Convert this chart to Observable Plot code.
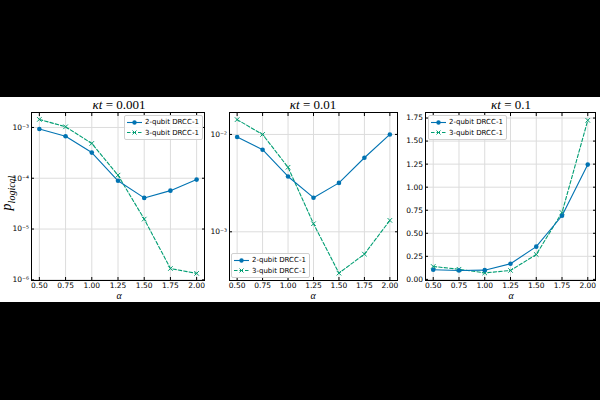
<!DOCTYPE html>
<html>
<head>
<meta charset="utf-8">
<script src="https://cdn.jsdelivr.net/npm/d3@7"></script>
<script src="https://cdn.jsdelivr.net/npm/@observablehq/plot@0.6"></script>
<style>
  html, body { margin: 0; padding: 0; background: #000; }
  #wrap { position: relative; width: 600px; height: 400px; background: #000; overflow: hidden; }
  #white { position: absolute; left: 0; top: 97px; width: 600px; height: 205px; background: #fff; }
  .panel { position: absolute; top: 0; }
  .panel svg { background: transparent !important; }
  .title { position: absolute; transform: translate(-50%, -50%); font-family: "Liberation Serif", serif; font-size: 13px; white-space: nowrap; color: #000; }
  .xlab { position: absolute; transform: translate(-50%, -50%); font-family: "Liberation Serif", serif; font-style: italic; font-size: 10px; color: #000; }
  .ylab { position: absolute; transform: translate(-50%, -50%) rotate(-90deg); font-family: "Liberation Serif", serif; font-style: italic; font-size: 14px; white-space: nowrap; color: #000; }
  .ylab sub { font-size: 10px; }
  .legend { position: absolute; border: 1px solid #d0d0d0; border-radius: 2px; background: rgba(255,255,255,0.85); font-family: "DejaVu Sans", sans-serif; font-size: 7px; color: #000; padding: 1px 3px 1px 2px; }
  .legend .row { display: flex; align-items: center; height: 10.5px; white-space: nowrap; }
  .legend svg { margin-right: 3px; }
</style>
</head>
<body>
<div id="wrap"><div id="white"></div></div>
<script>
// ---- data ----
const alpha = [0.5, 0.75, 1.0, 1.25, 1.5, 1.75, 2.0];
const xTicks = [0.5, 0.75, 1.0, 1.25, 1.5, 1.75, 2.0];

// kappa t = 0.001
const p2_k0001 = [9.3e-4, 6.7e-4, 3.2e-4, 8.9e-5, 4.1e-5, 5.7e-5, 9.4e-5];
const p3_k0001 = [1.44e-3, 1.03e-3, 4.85e-4, 1.15e-4, 1.57e-5, 1.67e-6, 1.34e-6];
// kappa t = 0.01
const p2_k001 = [9.4e-3, 6.97e-3, 3.7e-3, 2.24e-3, 3.18e-3, 5.76e-3, 1.0e-2];
const p3_k001 = [1.42e-2, 1.0e-2, 4.6e-3, 1.21e-3, 3.76e-4, 5.9e-4, 1.31e-3];
// kappa t = 0.1
const p2_k01 = [0.105, 0.097, 0.10, 0.17, 0.355, 0.69, 1.245];
const p3_k01 = [0.14, 0.11, 0.07, 0.097, 0.27, 0.725, 1.725];

const yTicks1 = [1e-6, 1e-5, 1e-4, 1e-3];
const yTicks2 = [1e-3, 1e-2];
const yTicks3 = [0, 0.25, 0.5, 0.75, 1.0, 1.25, 1.5, 1.75];

const titles = ["0.001", "0.01", "0.1"];
const seriesNames = ["2-qubit DRCC-1", "3-qubit DRCC-1"];
const colors = ["#0173B2", "#029E73"];

// ---- helpers ----
const sup = {"-": "\u207B", "0": "\u2070", "1": "\u00B9", "2": "\u00B2", "3": "\u00B3", "4": "\u2074", "5": "\u2075", "6": "\u2076", "7": "\u2077", "8": "\u2078", "9": "\u2079"};
const powFmt = d => "10" + String(Math.round(Math.log10(d))).split("").map(c => sup[c]).join("");

const white = document.getElementById("white");

function panel({left, width, ml, mr, yType, yDomain, yTicks, yFmt, s2, s3}) {
  const chart = Plot.plot({
    width, height: 205,
    marginLeft: ml, marginRight: mr, marginTop: 15, marginBottom: 22,
    style: {fontFamily: "DejaVu Sans, sans-serif", fontSize: "7.5px", background: "transparent", color: "#000"},
    x: {domain: [0.425, 2.075]},
    y: {type: yType, domain: yDomain},
    marks: [
      Plot.gridX(xTicks, {stroke: "#dcdcdc", strokeOpacity: 1, strokeWidth: 1}),
      Plot.gridY(yTicks, {stroke: "#dcdcdc", strokeOpacity: 1, strokeWidth: 1}),
      Plot.line(alpha, {x: alpha, y: s3, stroke: colors[1], strokeWidth: 1.1, strokeDasharray: "3.5,2"}),
      Plot.dot(alpha, {x: alpha, y: s3, symbol: "times", stroke: colors[1], strokeWidth: 1, r: 2.2}),
      Plot.line(alpha, {x: alpha, y: s2, stroke: colors[0], strokeWidth: 1.1}),
      Plot.dot(alpha, {x: alpha, y: s2, fill: colors[0], r: 2.3}),
      Plot.frame({stroke: "#000", strokeWidth: 1}),
      Plot.axisX({ticks: xTicks, tickFormat: d3.format(".2f"), tickSize: -3, tickPadding: 5, label: null}),
      Plot.axisX({anchor: "top", ticks: xTicks, tickFormat: () => "", tickSize: -3, label: null}),
      Plot.axisY({anchor: "left", ticks: yTicks, tickFormat: yFmt, tickSize: -3, tickPadding: 5.5, label: null}),
      Plot.axisY({anchor: "right", ticks: yTicks, tickFormat: () => "", tickSize: -3, label: null})
    ]
  });
  const d = document.createElement("div");
  d.className = "panel";
  d.style.left = left + "px";
  d.appendChild(chart);
  white.appendChild(d);
}

panel({left: 0, width: 208, ml: 31, mr: 4, yType: "log", yDomain: [9.7e-7, 1.97e-3], yTicks: yTicks1, yFmt: powFmt, s2: p2_k0001, s3: p3_k0001});
panel({left: 208, width: 192, ml: 21, mr: 3, yType: "log", yDomain: [3.16e-4, 1.68e-2], yTicks: yTicks2, yFmt: powFmt, s2: p2_k001, s3: p3_k001});
panel({left: 400, width: 200, ml: 25, mr: 5, yType: "linear", yDomain: [-0.012, 1.81], yTicks: yTicks3, yFmt: d3.format(".2f"), s2: p2_k01, s3: p3_k01});

// titles
const titleX = [119, 313, 511];
titles.forEach((t, i) => {
  const el = document.createElement("div");
  el.className = "title";
  el.style.left = titleX[i] + "px";
  el.style.top = "8px";
  el.innerHTML = "<i>\u03BAt</i> = " + t;
  white.appendChild(el);
});
// x labels
titleX.forEach(x => {
  const el = document.createElement("div");
  el.className = "xlab";
  el.style.left = x + "px";
  el.style.top = "198px";
  el.textContent = "\u03B1";
  white.appendChild(el);
});
// y label
const yl = document.createElement("div");
yl.className = "ylab";
yl.style.left = "8px";
yl.style.top = "96px";
yl.innerHTML = "p<sub>logical</sub>";
white.appendChild(yl);

// legends
function swatch(i) {
  if (i === 0) {
    return `<svg width="15" height="7"><line x1="0" y1="3.5" x2="15" y2="3.5" stroke="${colors[0]}" stroke-width="1.1"/><circle cx="7.5" cy="3.5" r="2.2" fill="${colors[0]}"/></svg>`;
  }
  return `<svg width="15" height="7"><line x1="0" y1="3.5" x2="15" y2="3.5" stroke="${colors[1]}" stroke-width="1.1" stroke-dasharray="3.5,2"/><path d="M5.5,1.5L9.5,5.5M9.5,1.5L5.5,5.5" stroke="${colors[1]}" stroke-width="1"/></svg>`;
}
function legend(left, top) {
  const el = document.createElement("div");
  el.className = "legend";
  el.style.left = left + "px";
  el.style.top = top + "px";
  el.innerHTML = seriesNames.map((n, i) => `<div class="row">${swatch(i)}<span>${n}</span></div>`).join("");
  white.appendChild(el);
}
legend(124, 18);
legend(231, 156);
legend(428, 18);
</script>
</body>
</html>
